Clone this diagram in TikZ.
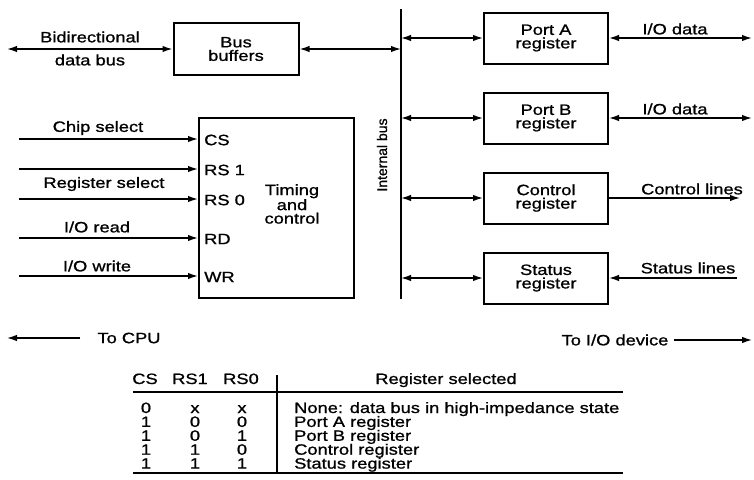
\documentclass[tikz,border=0pt]{standalone}
\usepackage{fontspec}
\setmainfont{Liberation Sans}[FakeStretch=1.22, FakeBold=1]
\newfontfamily\upright{Liberation Sans}[FakeBold=1]
\usetikzlibrary{arrows.meta}
\usetikzlibrary{calc}
\usetikzlibrary{positioning}

\begin{document}
\begin{tikzpicture}[x=1pt, y=-1pt, font=\fontsize{15}{13.5}\selectfont,
    box/.style={rectangle, draw=black, line width=2pt, minimum width=124pt, minimum height=51pt, inner sep=0pt, align=center},
    wire/.style={line width=1.5pt},
    tip/.style={-{Latex[length=10pt, width=6.5pt]}},
    both/.style={{Latex[length=10pt, width=6.5pt]}-{Latex[length=10pt, width=6.5pt]}},
    cell/.style={inner sep=0pt, anchor=base}]
            \useasboundingbox (0, 0) rectangle (754, 479);
            \coordinate (bt) at (401, 9);
            \coordinate (bb) at (401, 299);
            \draw[line width=2.8pt] (bt) -- (bb);
            \node[rotate=90, font=\upright\fontsize{14}{12}\selectfont] (ib) at (382, 155) {Internal bus};
            \node[box, minimum width=125pt, minimum height=52pt] (buf) at (236, 49) {Bus\\buffers};
            \coordinate (dbe) at (7, 49);
            \draw[wire, both] (dbe) -- (buf.west);
            \node (bidir) at (90, 37) {Bidirectional};
            \node (dbus) at (90, 60) {data bus};
            \draw[wire, both] (buf.east) -- (buf.east -| bt);
            \coordinate (ioe) at (752, 0);
            \coordinate (cle) at (740, 0);
            \def\R{pa/Port A, pb/Port B, ctl/Control, st/Status}
            \foreach \n/\t[count=\i from 0] in \R
            {
                \node[box] (\n) at (546, 38 + 80*\i) {\t\\register};
                \draw[wire, both] (\n.west -| bt) -- (\n.west);
            }
            \draw[wire, both] (pa.east) -- (pa.east -| ioe);
            \node (ioa) at (675, 29) {I/O data};
            \draw[wire, both] (pb.east) -- (pb.east -| ioe);
            \node (iob) at (675, 109) {I/O data};
            \draw[wire, tip] (ctl.east) -- (ctl.east -| cle);
            \node (cl) at (692, 189) {Control lines};
            \coordinate (ste) at (737, 278);
            \draw[wire, tip] (ste) -- (st.east);
            \node (sl) at (688, 268) {Status lines};
            \node[draw=black, line width=2pt, minimum width=155pt, minimum height=180pt, inner sep=0pt] (tc) at (276.5, 208) {};
            \node[align=center] (tctxt) at (292, 204) {Timing\\and\\control};
            \def\P{CS/139, RS 1/169, RS 0/199, RD/238, WR/276}
            \foreach \p/\y[count=\i from 1] in \P
            {
                \coordinate (in\i) at (19, \y);
                \node[anchor=west, inner sep=2pt] (pin\i) at (202, \y + 1) {\p};
                \draw[wire, tip] (in\i) -- (in\i -| tc.west);
            }
            \node (chip) at (98, 128) {Chip select};
            \node (regsel) at (104, 184) {Register select};
            \node (ior) at (97, 227) {I/O read};
            \node (iow) at (97, 266) {I/O write};
            \coordinate (cpu) at (7, 338);
            \node[inner xsep=17pt] (tocpu) at (129, 338) {To CPU};
            \draw[line width=1.3pt, tip] (tocpu.west) -- (cpu);
            \coordinate (dev) at (752, 340);
            \node[inner xsep=5pt] (todev) at (615, 340) {To I/O device};
            \draw[line width=1.3pt, tip] (todev.east) -- (dev);
            \node[cell] (hcs) at (145, 384) {CS};
            \node[cell] (hra) at (190, 384) {RS1};
            \node[cell] (hrb) at (241, 384) {RS0};
            \node[cell] (hreg) at (446, 384) {Register selected};
            \coordinate (tl) at (133, 392);
            \coordinate (tr) at (623, 392);
            \coordinate (bl) at (133, 473);
            \coordinate (br) at (623, 473);
            \coordinate (vt) at (277, 375);
            \draw[line width=1.5pt] (tl) -- (tr) (bl) -- (br);
            \draw[line width=1.5pt] (vt) -- (vt |- bl);
            \def\T{0/x/x/None: data bus in high-impedance state, 1/0/0/Port A register, 1/0/1/Port B register, 1/1/0/Control register, 1/1/1/Status register}
            \foreach \c/\a/\b/\s[count=\i from 0] in \T
            {
                \node[cell] (c\i) at (146, 413 + 13.9*\i) {\c};
                \node[cell] (a\i) at (195, 413 + 13.9*\i) {\a};
                \node[cell] (b\i) at (242, 413 + 13.9*\i) {\b};
                \node[cell, anchor=base west] (s\i) at (294, 413 + 13.9*\i) {\s};
            }
        \end{tikzpicture}
\end{document}
